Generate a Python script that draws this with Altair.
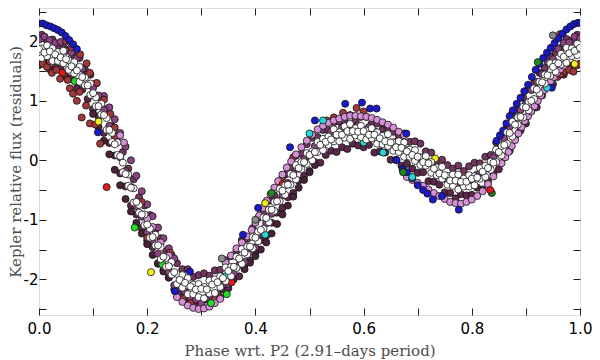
import altair as alt
import pandas as pd

# ---------------- data ----------------
P0 = [0.00, 0.01, 0.02, 0.03, 0.04, 0.05, 0.06, 0.07, 0.08, 0.09,
      0.10, 0.11, 0.12, 0.13, 0.14, 0.15, 0.16, 0.17, 0.18, 0.19,
      0.20, 0.21, 0.22, 0.23, 0.24, 0.25, 0.26, 0.27, 0.28, 0.29,
      0.30, 0.31, 0.32, 0.33, 0.34, 0.35, 0.36, 0.37, 0.38, 0.39,
      0.40, 0.41, 0.42, 0.43, 0.44, 0.45, 0.46, 0.47, 0.48, 0.49,
      0.50, 0.51, 0.52, 0.53, 0.54, 0.55, 0.56, 0.57, 0.58, 0.59,
      0.60, 0.61, 0.62, 0.63, 0.64, 0.65, 0.66, 0.67, 0.68, 0.69,
      0.70, 0.71, 0.72, 0.73, 0.74, 0.75, 0.76, 0.77, 0.78, 0.79,
      0.80, 0.81, 0.82, 0.83, 0.84, 0.85, 0.86, 0.87, 0.88, 0.89,
      0.90, 0.91, 0.92, 0.93, 0.94, 0.95, 0.96, 0.97, 0.98, 0.99,
      1.00]
P5 = [0.005, 0.015, 0.025, 0.035, 0.045, 0.055, 0.065, 0.075, 0.085, 0.095,
      0.105, 0.115, 0.125, 0.135, 0.145, 0.155, 0.165, 0.175, 0.185, 0.195,
      0.205, 0.215, 0.225, 0.235, 0.245, 0.255, 0.265, 0.275, 0.285, 0.295,
      0.305, 0.315, 0.325, 0.335, 0.345, 0.355, 0.365, 0.375, 0.385, 0.395,
      0.405, 0.415, 0.425, 0.435, 0.445, 0.455, 0.465, 0.475, 0.485, 0.495,
      0.505, 0.515, 0.525, 0.535, 0.545, 0.555, 0.565, 0.575, 0.585, 0.595,
      0.605, 0.615, 0.625, 0.635, 0.645, 0.655, 0.665, 0.675, 0.685, 0.695,
      0.705, 0.715, 0.725, 0.735, 0.745, 0.755, 0.765, 0.775, 0.785, 0.795,
      0.805, 0.815, 0.825, 0.835, 0.845, 0.855, 0.865, 0.875, 0.885, 0.895,
      0.905, 0.915, 0.925, 0.935, 0.945, 0.955, 0.965, 0.975, 0.985, 0.995]

WHITE_A = [1.87, 1.81, 1.83, 1.78, 1.73, 1.70, 1.58, 1.51, 1.40, 1.26,
           1.13, 0.91, 0.76, 0.51, 0.27, 0.07, -0.23, -0.46, -0.70, -0.91,
           -1.08, -1.29, -1.43, -1.62, -1.78, -1.88, -2.01, -2.06, -2.12, -2.17,
           -2.16, -2.17, -2.09, -2.05, -1.98, -1.86, -1.79, -1.65, -1.55, -1.45,
           -1.30, -1.17, -0.97, -0.83, -0.69, -0.51, -0.41, -0.25, -0.13, -0.03,
           0.09, 0.14, 0.26, 0.31, 0.35, 0.43, 0.43, 0.49, 0.49, 0.48,
           0.49, 0.43, 0.43, 0.37, 0.32, 0.30, 0.22, 0.21, 0.15, 0.09,
           0.06, -0.03, -0.05, -0.14, -0.22, -0.25, -0.34, -0.34, -0.36, -0.36,
           -0.31, -0.29, -0.19, -0.13, -0.04, 0.14, 0.26, 0.46, 0.60, 0.73,
           0.89, 1.00, 1.19, 1.31, 1.43, 1.57, 1.63, 1.74, 1.80, 1.84,
           1.89]
WHITE_B = [1.72, 1.75, 1.67, 1.67, 1.63, 1.52, 1.46, 1.32, 1.26, 1.10,
           0.91, 0.77, 0.51, 0.31, 0.09, -0.20, -0.43, -0.71, -0.88, -1.09,
           -1.30, -1.43, -1.66, -1.79, -1.92, -2.08, -2.14, -2.25, -2.25, -2.30,
           -2.32, -2.24, -2.23, -2.13, -2.03, -1.95, -1.81, -1.74, -1.58, -1.48,
           -1.36, -1.15, -1.04, -0.85, -0.69, -0.58, -0.41, -0.32, -0.15, -0.06,
           0.00, 0.14, 0.17, 0.26, 0.32, 0.32, 0.38, 0.36, 0.42, 0.39,
           0.35, 0.37, 0.28, 0.27, 0.24, 0.16, 0.14, 0.06, 0.06, -0.01,
           -0.08, -0.09, -0.21, -0.25, -0.31, -0.41, -0.43, -0.49, -0.44, -0.44,
           -0.42, -0.31, -0.28, -0.16, -0.03, 0.08, 0.28, 0.40, 0.60, 0.72,
           0.84, 1.03, 1.13, 1.29, 1.42, 1.49, 1.61, 1.64, 1.75, 1.77]
WHITE_C = [1.88, 1.93, 1.88, 1.82, 1.84, 1.68, 1.65, 1.57, 1.39, 1.29,
           1.06, 0.95, 0.71, 0.46, 0.30, -0.04, -0.24, -0.47, -0.75, -0.91,
           -1.15, -1.25, -1.46, -1.64, -1.71, -1.91, -1.93, -1.98, -2.09, -2.08,
           -2.13, -2.02, -2.00, -1.95, -1.80, -1.79, -1.62, -1.49, -1.45, -1.29,
           -1.20, -0.96, -0.83, -0.70, -0.48, -0.42, -0.23, -0.08, -0.03, 0.12,
           0.15, 0.31, 0.36, 0.40, 0.52, 0.47, 0.57, 0.61, 0.54, 0.58,
           0.50, 0.54, 0.47, 0.41, 0.44, 0.30, 0.32, 0.30, 0.18, 0.17,
           0.05, 0.07, -0.03, -0.12, -0.11, -0.26, -0.24, -0.24, -0.31, -0.25,
           -0.27, -0.13, -0.09, -0.02, 0.18, 0.24, 0.47, 0.65, 0.72, 0.90,
           0.98, 1.21, 1.32, 1.44, 1.63, 1.64, 1.79, 1.89, 1.88, 1.96]
DARK = [2.11, 2.01, 2.03, 1.93, 1.96, 1.86, 1.75, 1.72, 1.52, 1.44,
        1.29, 1.03, 0.86, 0.57, 0.42, 0.14, -0.14, -0.32, -0.62, -0.76,
        -0.92, -1.17, -1.31, -1.53, -1.59, -1.73, -1.83, -1.83, -1.96, -1.93,
        -1.90, -1.94, -1.85, -1.84, -1.68, -1.61, -1.52, -1.34, -1.32, -1.14,
        -0.97, -0.88, -0.68, -0.59, -0.36, -0.24, -0.13, 0.08, 0.11, 0.27,
        0.38, 0.39, 0.51, 0.51, 0.64, 0.65, 0.67, 0.76, 0.67, 0.73,
        0.73, 0.62, 0.62, 0.52, 0.56, 0.48, 0.42, 0.45, 0.31, 0.32,
        0.28, 0.15, 0.13, -0.01, 0.01, -0.08, -0.14, -0.09, -0.18, -0.10,
        -0.04, -0.05, 0.06, 0.09, 0.30, 0.42, 0.57, 0.80, 0.85, 1.05,
        1.21, 1.29, 1.47, 1.55, 1.75, 1.82, 1.89, 2.04, 2.01, 2.11]
DARK2 = [1.60, 1.64, 1.53, 1.56, 1.54, 1.41, 1.37, 1.21, 1.19, 1.03,
         0.86, 0.74, 0.46, 0.29, 0.08, -0.22, -0.44, -0.76, -0.91, -1.14,
         -1.35, -1.46, -1.73, -1.84, -1.97, -2.17, -2.22, -2.36, -2.33, -2.40,
         -2.43, -2.34, -2.39, -2.27, -2.17, -2.15, -2.00, -1.95, -1.76, -1.68,
         -1.57, -1.34, -1.27, -1.05, -0.88, -0.80, -0.62, -0.55, -0.34, -0.26,
         -0.18, -0.03, -0.04, 0.09, 0.16, 0.14, 0.22, 0.19, 0.28, 0.25,
         0.22, 0.26, 0.13, 0.15, 0.13, 0.01, 0.01, -0.09, -0.06, -0.14,
         -0.21, -0.20, -0.35, -0.36, -0.41, -0.54, -0.55, -0.64, -0.57, -0.59,
         -0.58, -0.46, -0.49, -0.35, -0.23, -0.15, 0.05, 0.16, 0.39, 0.50,
         0.62, 0.83, 0.89, 1.09, 1.24, 1.28, 1.42, 1.44, 1.59, 1.61,
         1.62]
PURPLE = [2.03, 2.08, 2.02, 1.97, 1.99, 1.84, 1.81, 1.72, 1.54, 1.44,
          1.22, 1.09, 0.85, 0.58, 0.40, 0.05, -0.18, -0.45, -0.77, -0.95,
          -1.22, -1.34, -1.57, -1.78, -1.88, -2.10, -2.14, -2.21, -2.33, -2.34,
          -2.41, -2.31, -2.29, -2.25, -2.09, -2.08, -1.90, -1.76, -1.71, -1.54,
          -1.46, -1.21, -1.06, -0.90, -0.67, -0.59, -0.38, -0.22, -0.14, 0.02,
          0.07, 0.24, 0.30, 0.36, 0.48, 0.45, 0.55, 0.60, 0.55, 0.59,
          0.51, 0.56, 0.49, 0.42, 0.44, 0.30, 0.31, 0.29, 0.17, 0.15,
          0.04, 0.05, -0.05, -0.14, -0.15, -0.31, -0.30, -0.32, -0.40, -0.35,
          -0.37, -0.24, -0.20, -0.13, 0.05, 0.12, 0.36, 0.57, 0.66, 0.85,
          0.95, 1.18, 1.32, 1.45, 1.66, 1.70, 1.87, 1.97, 1.98, 2.08,
          2.05]

EDGE_L_P = [0.10, 0.11, 0.12, 0.13, 0.14, 0.15, 0.16, 0.17, 0.18, 0.19, 0.20, 0.21, 0.22, 0.23, 0.24]
EDGE_L_F = [0.78, 0.56, 0.33, 0.10, -0.16, -0.42, -0.65, -0.86, -1.05, -1.23, -1.41, -1.59, -1.74, -1.87, -1.97]
EDGE_R_P = [0.12, 0.13, 0.14, 0.15, 0.16, 0.17, 0.18, 0.19, 0.20, 0.21, 0.22, 0.23, 0.24, 0.25]
EDGE_R_F = [1.08, 0.89, 0.69, 0.46, 0.23, 0.00, -0.26, -0.52, -0.74, -0.94, -1.13, -1.31, -1.48, -1.65]
EDGE_R2_P = [0.38, 0.39, 0.40, 0.41, 0.42, 0.43, 0.44, 0.45, 0.46, 0.47, 0.48, 0.49, 0.50, 0.51]
EDGE_R2_F = [-1.83, -1.72, -1.61, -1.50, -1.38, -1.23, -1.07, -0.91, -0.76, -0.61, -0.46, -0.33, -0.20, -0.08]

BROWN_P = [0.000, 0.007, 0.015, 0.020, 0.024, 0.032, 0.039, 0.046, 0.053, 0.057, 0.063, 0.070, 0.075, 0.079,
           0.087, 0.094, 0.104, 0.113,
           0.050, 0.060, 0.076, 0.088, 0.094, 0.107, 0.120, 0.132, 0.140, 0.144,
           0.958, 0.965, 0.972, 0.980, 0.988, 0.995, 1.000, 0.963,
           0.242, 0.266, 0.325, 0.335, 0.562, 0.587, 0.532, 0.636, 0.470, 0.450, 0.200, 0.190, 0.280,
           0.600, 0.545]
BROWN_F = [1.64, 1.62, 1.57, 1.66, 1.47, 1.52, 1.37, 1.45, 1.35, 1.21, 1.12, 1.00, 1.15, 0.72,
           0.92, 0.62, 0.60, 0.28,
           2.00, 1.90, 1.78, 1.63, 1.47, 1.30, 1.02, 0.78, 0.55, 0.38,
           1.40, 1.45, 1.50, 1.52, 1.49, 1.60, 1.62, 2.12,
           -1.55, -2.33, -2.33, -2.30, 0.80, 0.88, 0.67, 0.62, 0.05, -0.28, -1.30, -0.70, -2.40,
           0.82, 0.72]

PLUM_RISE2_P = [0.855, 0.862, 0.868, 0.874, 0.880, 0.886, 0.892, 0.898, 0.904, 0.910,
                0.916, 0.922, 0.928, 0.934, 0.940, 0.946, 0.952, 0.958, 0.964, 0.970]
PLUM_RISE2_F = [-0.05, 0.05, 0.14, 0.24, 0.34, 0.45, 0.56, 0.66, 0.74, 0.82,
                0.91, 1.00, 1.09, 1.18, 1.26, 1.33, 1.40, 1.47, 1.53, 1.59]
PLUM_DIP_P = [0.680, 0.690, 0.700, 0.710, 0.720, 0.730, 0.740, 0.750, 0.760, 0.770,
              0.780, 0.790, 0.800, 0.810, 0.820, 0.830, 0.840]
PLUM_DIP_F = [-0.28, -0.33, -0.38, -0.43, -0.49, -0.55, -0.60, -0.65, -0.70, -0.72,
              -0.73, -0.70, -0.66, -0.60, -0.52, -0.40, -0.27]
PLUM_HUMP_P = [0.345, 0.355, 0.365, 0.375, 0.385, 0.393, 0.400, 0.407, 0.414, 0.421,
               0.428, 0.435, 0.442, 0.450, 0.458, 0.466, 0.475, 0.485, 0.495, 0.505,
               0.515, 0.525, 0.535, 0.545, 0.555, 0.565, 0.575, 0.585, 0.595, 0.605,
               0.615, 0.625, 0.635, 0.645, 0.655, 0.665, 0.675]
PLUM_HUMP_F = [-1.72, -1.60, -1.48, -1.38, -1.28, -1.17, -1.05, -0.93, -0.80, -0.68,
               -0.57, -0.46, -0.35, -0.24, -0.12, -0.02, 0.10, 0.22, 0.33, 0.43,
               0.52, 0.58, 0.63, 0.67, 0.70, 0.73, 0.75, 0.75, 0.74, 0.73,
               0.71, 0.68, 0.64, 0.60, 0.55, 0.48, 0.42]
PLUM_TROUGH_P = [0.255, 0.265, 0.275, 0.285, 0.295, 0.305, 0.315, 0.325, 0.335,
                 0.150, 0.157, 0.200, 0.210, 0.225, 0.240]
PLUM_TROUGH_F = [-2.30, -2.38, -2.44, -2.48, -2.50, -2.49, -2.46, -2.40, -2.33,
                 0.42, 0.30, -0.98, -1.12, -1.38, -1.60]

BLUE_PEAK_P = [0.000, 0.007, 0.014, 0.021, 0.028, 0.035, 0.042, 0.049, 0.056, 0.063, 0.070]
BLUE_PEAK_F = [2.30, 2.30, 2.27, 2.25, 2.22, 2.19, 2.15, 2.09, 2.02, 1.95, 1.87]
BLUE_RISE_P = [0.846, 0.852, 0.858, 0.864, 0.870, 0.876, 0.883, 0.890, 0.897, 0.904, 0.911, 0.918,
               0.925, 0.932, 0.939, 0.946, 0.953, 0.960, 0.968, 0.975, 0.982, 0.989, 0.996, 1.000]
BLUE_RISE_F = [0.33, 0.42, 0.50, 0.62, 0.74, 0.84, 0.95, 1.05, 1.16, 1.27, 1.40, 1.52,
               1.62, 1.72, 1.81, 1.89, 1.97, 2.05, 2.13, 2.20, 2.25, 2.29, 2.31, 2.31]
BLUE_MISC_P = [0.948, 0.672, 0.680, 0.690, 0.700, 0.710, 0.718, 0.728, 0.776, 0.679,
               0.405, 0.464, 0.510, 0.566, 0.597, 0.612, 0.624, 0.661, 0.251, 0.279,
               0.377, 0.109, 0.745]
BLUE_MISC_F = [1.22, -0.15, -0.20, -0.30, -0.42, -0.50, -0.56, -0.66, -0.83, 0.45,
               -0.80, 0.22, 0.67, 0.95, 0.97, 0.87, 0.87, 0.00, -2.20, -1.87,
               -1.25, 0.47, -0.60]

GREEN_P = [0.066, 0.177, 0.318, 0.347, 0.228]
GREEN_F = [1.33, -1.13, -2.40, -2.25, -1.75]
DKGREEN_P = [0.673, 0.837, 0.922, 0.430]
DKGREEN_F = [-0.20, -0.55, 1.65, -0.55]
YELLOW_P = [0.207, 0.732, 0.418, 0.110, 0.990]
YELLOW_F = [-1.88, 0.03, -0.72, 0.65, 1.62]
CYAN_P = [0.525, 0.636, 0.500, 0.939, 0.690, 0.418, 0.345, 0.600]
CYAN_F = [0.67, 0.13, 0.45, 1.22, -0.28, -1.25, -1.95, 0.30]
RED_P = [0.125, 0.834, 0.356, 0.043, 0.450]
RED_F = [-0.45, -0.50, -2.05, 1.47, -0.40]
GRAY_P = [0.338, 0.950, 0.400]
GRAY_F = [-1.65, 2.10, -1.00]

X_TICKS = [0.0, 0.1, 0.2, 0.3, 0.4, 0.5, 0.6, 0.7, 0.8, 0.9, 1.0]
X_LABELS = [0.0, 0.2, 0.4, 0.6, 0.8, 1.0]
Y_TICKS = [-2.5, -2.0, -1.5, -1.0, -0.5, 0.0, 0.5, 1.0, 1.5, 2.0, 2.5]
Y_LABELS = [-2, -1, 0, 1, 2]

NAMES = ["dark2", "edge", "dark", "purple", "brown", "plum", "blue", "green",
         "dkgreen", "yellow", "cyan", "red", "gray", "white"]
COLORS = ["#5b2849", "#4a2238", "#733660", "#8a4582", "#a3383a", "#d690d6", "#1a1acb", "#22dd22",
          "#1f8a1f", "#eeee22", "#22d8d8", "#e01b1b", "#8a8a8a", "#ffffff"]

SERIES = [
    ("dark2", P0, DARK2),
    ("edge", EDGE_L_P, EDGE_L_F),
    ("edge", EDGE_R2_P, EDGE_R2_F),
    ("dark", P5, DARK),
    ("purple", EDGE_R_P, EDGE_R_F),
    ("purple", P0, PURPLE),
    ("brown", BROWN_P, BROWN_F),
    ("plum", PLUM_RISE2_P, PLUM_RISE2_F),
    ("plum", PLUM_DIP_P, PLUM_DIP_F),
    ("plum", PLUM_HUMP_P, PLUM_HUMP_F),
    ("plum", PLUM_TROUGH_P, PLUM_TROUGH_F),
    ("blue", BLUE_PEAK_P, BLUE_PEAK_F),
    ("blue", BLUE_RISE_P, BLUE_RISE_F),
    ("blue", BLUE_MISC_P, BLUE_MISC_F),
    ("green", GREEN_P, GREEN_F),
    ("dkgreen", DKGREEN_P, DKGREEN_F),
    ("yellow", YELLOW_P, YELLOW_F),
    ("cyan", CYAN_P, CYAN_F),
    ("red", RED_P, RED_F),
    ("gray", GRAY_P, GRAY_F),
    ("white", P5, WHITE_C),
    ("white", P5, WHITE_B),
    ("white", P0, WHITE_A),
]

rows = []
for name, ps, fs in SERIES:
    for p, f in zip(ps, fs):
        rows.append({"phase": p, "flux": f, "s": name})
df = pd.DataFrame(rows)

W, H = 541, 307
xs = alt.Scale(domain=[0, 1], nice=False, zero=False)
ys = alt.Scale(domain=[-2.60, 2.56], nice=False, zero=False)

ax_x = alt.Axis(orient="bottom", values=X_LABELS, format=".1f", ticks=False, tickSize=0, domain=False,
                grid=False, labelFlush=False, labelFont="DejaVu Sans", labelFontSize=15,
                labelColor="black", labelPadding=6,
                title="Phase wrt. P2 (2.91–days period)", titleFont="DejaVu Serif",
                titleFontSize=15, titleFontWeight="normal", titleColor="#4d4d4d",
                titleY=28, titleBaseline="top")
ax_y = alt.Axis(orient="left", values=Y_LABELS, ticks=False, tickSize=0, domain=False, grid=False,
                labelFlush=False, labelFont="DejaVu Sans", labelFontSize=15, labelColor="black",
                labelPadding=1,
                labelExpr="datum.value < 0 ? '-' + abs(datum.value) : '' + datum.value",
                title="Kepler relative flux (residuals)", titleFont="DejaVu Serif",
                titleFontSize=15, titleFontWeight="normal", titleColor="#4d4d4d",
                titleX=-31, titleBaseline="top")

pts = alt.Chart(df).mark_circle(size=50, stroke="#111111", strokeWidth=0.8, opacity=1,
                                clip=True).encode(
    x=alt.X("phase:Q", scale=xs, axis=ax_x),
    y=alt.Y("flux:Q", scale=ys, axis=ax_y),
    color=alt.Color("s:N", scale=alt.Scale(domain=NAMES, range=COLORS), legend=None),
)

anchor = pd.DataFrame({"phase": [0.5], "flux": [0.0]})

tick_common = dict(tickSize=7, tickColor="#222222", tickWidth=1, labels=False,
                   domain=False, grid=False, title=None)

ticks_a = alt.Chart(anchor).mark_point(opacity=0).encode(
    x=alt.X("phase:Q", scale=xs,
            axis=alt.Axis(orient="top", offset=-H, values=X_TICKS, **tick_common)),
    y=alt.Y("flux:Q", scale=ys,
            axis=alt.Axis(orient="right", offset=-W, values=Y_TICKS, **tick_common)),
)
ticks_b = alt.Chart(anchor).mark_point(opacity=0).encode(
    x=alt.X("phase:Q", scale=xs,
            axis=alt.Axis(orient="bottom", offset=-H, values=X_TICKS, **tick_common)),
    y=alt.Y("flux:Q", scale=ys,
            axis=alt.Axis(orient="left", offset=-W, values=Y_TICKS, **tick_common)),
)

chart = alt.layer(pts, ticks_a, ticks_b).resolve_axis(
    x="independent", y="independent"
).properties(
    width=W, height=H,
    autosize=alt.AutoSizeParams(type="none"),
    padding={"left": 31, "top": 0, "right": 12, "bottom": 45},
).configure_view(
    stroke="black", strokeWidth=1.5
).configure(background="white")

chart.save("out.html", embed_options={"renderer": "svg", "actions": False})
